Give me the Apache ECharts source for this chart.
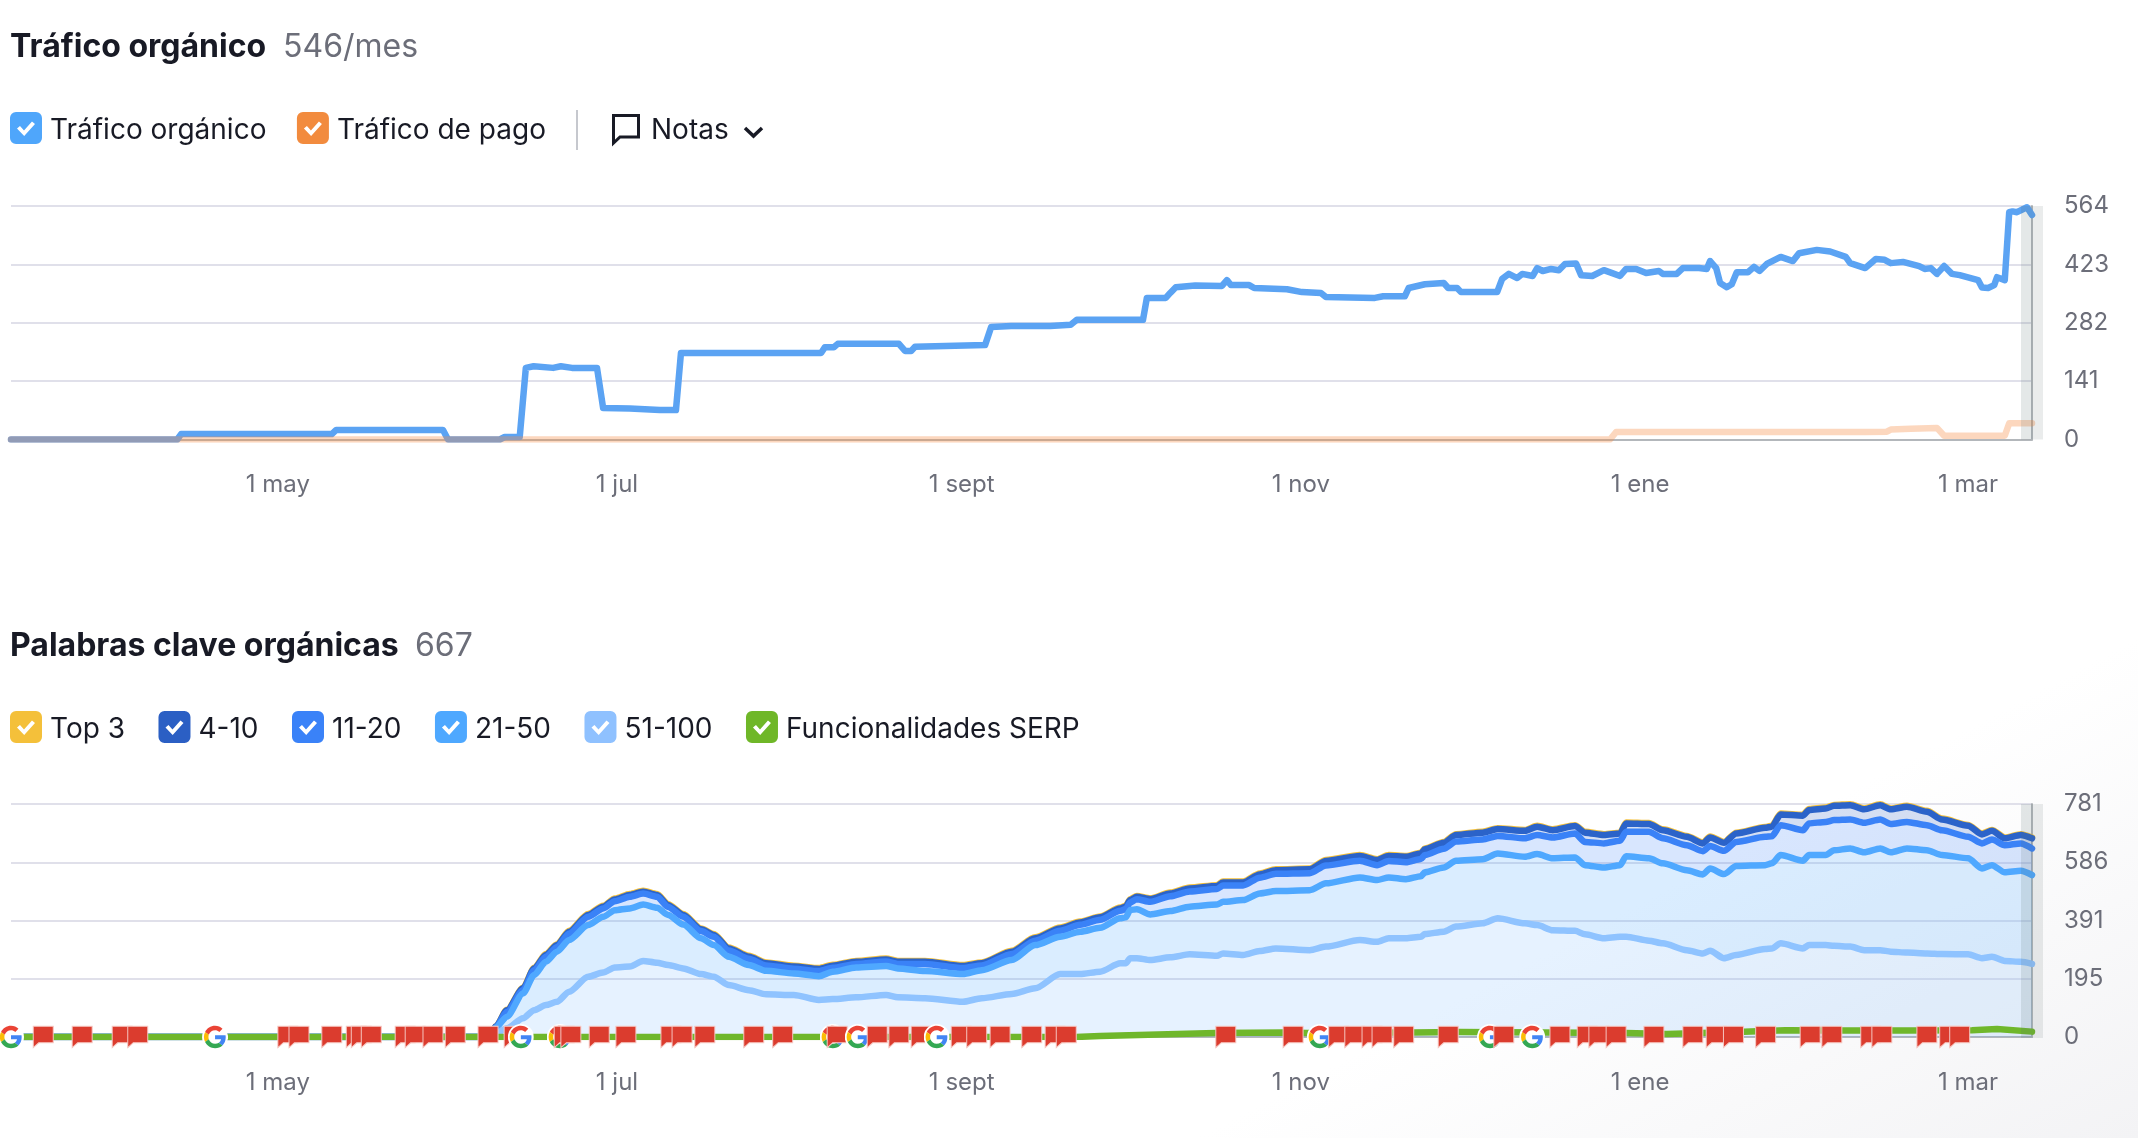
<!DOCTYPE html>
<html>
<head>
<meta charset="utf-8">
<title>Tráfico orgánico</title>
<script src="https://cdn.jsdelivr.net/npm/echarts@6/dist/echarts.min.js"></script>
<style>
    html, body { margin: 0; padding: 0; background: linear-gradient(152deg, #ffffff 78%, #f3f3f5 100%); }
    #main { width: 2138px; height: 1138px; }
</style>
</head>
<body>
<div id="main"></div>
<script>
// x values are days counted from the left edge of the charts (14 mar)
var tickDays = [48, 109, 171, 232, 293, 352];
var tickLabels = ['1 may', '1 jul', '1 sept', '1 nov', '1 ene', '1 mar'];
var lastDay = 363.5;

//*** Trafico organico ***//
var organicDays = [0, 29.9, 30.6, 57.7, 58.5, 77.7, 78.6, 87.9, 88.8, 91.5, 92.6, 94, 97.5, 98.9, 100.9, 105.4, 106.5, 111.3, 116.7, 119.6, 120.5, 145.7, 146.4, 148, 148.7, 159.7, 160.8, 161.9, 162.6, 175.2, 176.3, 179.9, 186.9, 190.6, 191.7, 203.6, 204.3, 207.7, 208.5, 209.5, 213, 217.8, 218.7, 219.4, 222.7, 223.6, 229.5, 232.2, 235.6, 236.5, 245.3, 246.8, 250.7, 251.4, 254.3, 257.7, 258.5, 260.1, 260.8, 267.3, 268.2, 269.4, 270.9, 271.8, 273.7, 274.5, 275.5, 277, 278.4, 279.5, 281.5, 282.4, 284.4, 286.5, 288, 289.4, 290.5, 292.3, 294.1, 296.4, 297.1, 299.6, 300.7, 303.6, 305, 305.6, 306.7, 307.4, 308.6, 309.5, 310.4, 312.4, 313.5, 314.5, 315.8, 318.3, 320.5, 321.6, 324.8, 327.2, 330, 330.8, 333.5, 335.4, 337, 338.1, 340.3, 343.2, 344.2, 345.3, 346.4, 347.7, 349.1, 350.5, 353.8, 354.5, 355.6, 356.7, 357.2, 358.6, 359.4, 360, 360.8, 362.6, 363.5];
var organicValues = [0, 0, 13, 13, 23, 23, 0, 0, 6, 6, 173, 177, 173, 177, 173, 173, 76, 75, 71, 71, 209, 209, 223, 223, 231, 231, 214, 214, 224, 228, 272, 274, 274, 277, 289, 289, 342, 342, 354, 368, 372, 371, 385, 373, 373, 366, 363, 356, 354, 344, 342, 346, 346, 366, 375, 378, 366, 366, 356, 356, 388, 400, 390, 400, 395, 414, 407, 412, 409, 424, 425, 397, 395, 409, 402, 395, 412, 412, 402, 407, 400, 400, 414, 414, 412, 431, 414, 378, 368, 375, 404, 404, 417, 407, 424, 441, 431, 450, 458, 454, 441, 426, 414, 436, 434, 426, 429, 419, 412, 414, 400, 419, 400, 397, 385, 367, 366, 373, 392, 385, 549, 551, 549, 561, 542];

var paidDays = [0, 287.6, 288.7, 333.6, 337.4, 338.1, 341.7, 346.4, 347.7, 358.6, 359.4, 363.5];
var paidValues = [0, 0, 18, 18, 19, 24, 26, 28, 9, 9, 39, 39];

//*** Palabras clave organicas ***//
var keywordDays = [0, 86.2, 87.2, 89.2, 92.1, 94.1, 96.2, 98.2, 100.4, 103.8, 106.5, 108.6, 111.3, 113.7, 116.2, 118.2, 120.9, 124.1, 126.4, 129.1, 132.7, 135.8, 140.8, 145.3, 147.8, 152, 157.4, 159.5, 164.4, 171.2, 174.6, 180, 184.2, 188.7, 192.3, 195.9, 199.5, 200.5, 201.3, 202.5, 204.9, 208.5, 212, 216.9, 218, 221.6, 224.6, 227.5, 233.6, 236.5, 242.6, 245.7, 247.8, 250.9, 253.6, 254.3, 257.7, 259.9, 264.7, 267.4, 272.3, 274.5, 277.3, 281.3, 283.1, 286.5, 289.4, 290.5, 294.6, 297.1, 301.4, 304.3, 305.6, 308.1, 310.3, 315.5, 316.7, 318.3, 322.3, 323.4, 326.4, 327.9, 330.8, 333.3, 336.2, 338.1, 341, 344.6, 347.3, 352, 354.5, 356.3, 358.6, 361.5, 363.5];
var pos51to100 = [0, 0, 12, 29, 63, 90, 107, 118, 152, 202, 216, 233, 236, 255, 249, 241, 230, 211, 202, 174, 157, 143, 141, 124, 127, 133, 141, 133, 130, 118, 130, 144, 163, 211, 211, 219, 247, 247, 264, 264, 258, 267, 277, 272, 280, 275, 288, 297, 291, 303, 325, 319, 331, 331, 336, 345, 353, 370, 381, 398, 381, 375, 358, 356, 344, 331, 336, 336, 323, 314, 291, 280, 289, 264, 275, 295, 297, 314, 297, 308, 308, 306, 303, 291, 291, 286, 283, 280, 278, 277, 264, 269, 255, 252, 245];
var pos21to50 = [0, 0, 20, 39, 83, 118, 145, 168, 173, 173, 187, 192, 195, 189, 184, 168, 147, 120, 106, 95, 84, 79, 72, 80, 92, 100, 97, 97, 91, 93, 94, 114, 145, 125, 142, 147, 151, 154, 162, 164, 153, 155, 160, 172, 173, 184, 193, 192, 201, 212, 210, 207, 204, 198, 203, 207, 215, 221, 215, 217, 223, 238, 241, 246, 232, 237, 240, 270, 276, 268, 268, 265, 276, 282, 298, 281, 285, 296, 294, 302, 302, 320, 329, 328, 341, 333, 349, 346, 332, 322, 301, 307, 297, 305, 298];
var pos11to20 = [0, 0, 1, 16, 11, 16, 17, 16, 22, 28, 28, 30, 39, 37, 37, 27, 26, 24, 28, 21, 21, 18, 16, 17, 13, 12, 15, 15, 24, 20, 16, 20, 15, 20, 23, 27, 25, 28, 25, 34, 42, 50, 51, 52, 55, 49, 53, 58, 57, 60, 56, 50, 55, 57, 58, 58, 63, 64, 66, 59, 62, 64, 70, 80, 78, 81, 82, 82, 89, 84, 84, 78, 75, 78, 81, 95, 91, 100, 102, 106, 111, 101, 97, 99, 97, 95, 89, 84, 83, 72, 84, 86, 91, 92, 89];
var pos4to10 = [0, 0, 2, 6, 6, 6, 6, 6, 6, 6, 6, 6, 6, 6, 6, 6, 6, 6, 6, 7, 7, 7, 7, 7, 7, 7, 7, 7, 7, 7, 7, 8, 8, 8, 8, 8, 8, 8, 8, 8, 9, 9, 10, 10, 10, 10, 11, 12, 13, 15, 16, 17, 17, 18, 18, 19, 20, 22, 23, 23, 25, 28, 24, 25, 31, 28, 24, 28, 26, 27, 28, 26, 29, 27, 28, 30, 32, 36, 49, 45, 45, 48, 48, 45, 48, 49, 51, 45, 36, 37, 30, 29, 23, 28, 34];
var top3 = [0, 0, 0, 1, 2, 2, 3, 3, 3, 3, 3, 3, 3, 3, 3, 3, 3, 3, 3, 3, 3, 3, 3, 3, 3, 3, 3, 3, 3, 3, 3, 3, 3, 3, 3, 3, 3, 3, 3, 3, 3, 3, 3, 3, 3, 3, 3, 3, 3, 3, 3, 3, 3, 3, 3, 3, 3, 3, 3, 3, 3, 3, 3, 3, 3, 3, 3, 3, 3, 3, 3, 3, 3, 3, 3, 3, 3, 3, 3, 3, 3, 3, 3, 3, 3, 3, 3, 3, 3, 3, 3, 3, 3, 3, 3];

var serpDays = [0, 191.5, 195.9, 216.7, 228.8, 233.1, 252.3, 260.6, 290.5, 297.8, 311.7, 319.1, 330, 341, 352.7, 357.2, 363.5];
var serpValues = [0, 0, 3, 13, 15, 13, 15, 17, 13, 10, 18, 23, 22, 22, 23, 27, 18];

// notas: red flags and google updates along the baseline
var flagDays = [4, 11, 18.2, 21, 48, 50, 55.9, 60.3, 61.2, 63, 69.1, 70.9, 74.1, 78.1, 84, 88.7, 97.7, 98.9, 104, 108.8, 116.9, 118.9, 123, 131.8, 137, 146.8, 154, 157.9, 161.9, 169.1, 171.9, 176.1, 181.8, 186, 188, 216.7, 228.8, 237, 239.9, 243, 244.8, 248.7, 256.7, 266.7, 276.8, 281.7, 283.8, 286.9, 293.7, 300.7, 304.9, 308, 313.8, 321.8, 325.7, 332.7, 334.7, 342.8, 346.9, 348.7];
var googleDays = [0, 36.7, 91.7, 98.7, 147.8, 152.3, 166.5, 235.4, 266, 273.6];

var textFont = 'Inter';
var textDark = '#181a25';
var textGrey = '#6c6e79';
// the x axis has to be a time axis so that the keyword series stack along it.
// the picture shows no year, any year with a 28 day february fits the ticks
var START_MS = Date.UTC(2022, 2, 14);
var DAY_MS = 86400000;

// the tiny square at y=38 makes the icon box taller than the checkbox, so the legend text sits lower
var checkIcon = 'path://M6 0H26A6 6 0 0 1 32 6V26A6 6 0 0 1 26 32H6A6 6 0 0 1 0 26V6A6 6 0 0 1 6 0Z' +
    'M7 16.5L14.2 24L25 12L22 9.5L14 18.5L10 14Z' +
    'M0 38h0.01v0.01h-0.01Z';
var flagIcon = 'path://M0 0H20V16.5H5.5L0 21.5Z';
var googleSvg = '<svg xmlns="http://www.w3.org/2000/svg" viewBox="-4 -4 56 56"><circle cx="24" cy="24" r="28" fill="#fff"/>' +
    '<path fill="#EA4335" d="M24 9.5c3.54 0 6.71 1.22 9.21 3.6l6.85-6.85C35.9 2.38 30.47 0 24 0 14.62 0 6.51 5.38 2.56 13.22l7.98 6.19C12.43 13.72 17.74 9.5 24 9.5z"/>' +
    '<path fill="#4285F4" d="M46.98 24.55c0-1.57-.15-3.09-.38-4.55H24v9.02h12.94c-.58 2.96-2.26 5.48-4.78 7.18l7.73 6c4.51-4.18 7.09-10.36 7.09-17.65z"/>' +
    '<path fill="#FBBC05" d="M10.53 28.59c-.48-1.45-.76-2.99-.76-4.59s.27-3.14.76-4.59l-7.98-6.19C.92 16.46 0 20.12 0 24c0 3.88.92 7.54 2.56 10.78l7.97-6.19z"/>' +
    '<path fill="#34A853" d="M24 48c6.48 0 11.93-2.13 15.89-5.81l-7.73-6c-2.15 1.45-4.92 2.3-8.16 2.3-6.26 0-11.57-4.22-13.47-9.91l-7.98 6.19C6.51 42.62 14.62 48 24 48z"/></svg>';
var googleIcon = 'image://data:image/svg+xml;charset=utf-8,' + encodeURIComponent(googleSvg);

function toTime(d) {
    return START_MS + d * DAY_MS;
}

function zip(days, values) {
    return days.map(function (d, i) { return [toTime(d), values[i]]; });
}

// flags and google marks are stacked in time order, later ones on top
function eventData() {
    var items = [];
    flagDays.forEach(function (d) {
        items.push({ sort: d, value: [toTime(d), 0], symbol: flagIcon, symbolSize: [20, 21.5], symbolOffset: [10, 0] });
    });
    googleDays.forEach(function (d) {
        items.push({ sort: d - 1.9, value: [toTime(d), 0], symbol: googleIcon, symbolSize: [26, 26], symbolOffset: [0, 0] });
    });
    items.sort(function (a, b) { return a.sort - b.sort; });
    return items;
}

var tickTimes = tickDays.map(toTime);

function xAxisFor(gridIndex, margin) {
    return {
        type: 'time',
        gridIndex: gridIndex,
        min: toTime(0),
        max: toTime(lastDay),
        splitNumber: 6,
        splitLine: { show: false },
        axisTick: { show: false },
        axisLine: { show: true, onZero: false, lineStyle: { color: '#b3b7bb', width: 2 } },
        axisLabel: {
            hideOverlap: false,
            formatter: function (v) {
                var i = tickTimes.indexOf(v);
                return i < 0 ? '' : tickLabels[i];
            },
            margin: margin,
            color: textGrey,
            fontFamily: textFont,
            fontSize: 24
        }
    };
}

function yAxisFor(gridIndex, maxValue, step) {
    return {
        type: 'value',
        gridIndex: gridIndex,
        position: 'right',
        min: 0,
        max: maxValue,
        interval: step,
        axisTick: { show: false },
        axisLine: { show: true, onZero: false, lineStyle: { color: '#b3b7bb', width: 2 } },
        splitLine: { lineStyle: { color: '#e0e0ea', width: 2 } },
        axisLabel: {
            formatter: function (v) { return Math.round(v); },
            margin: 32,
            color: textGrey,
            fontFamily: textFont,
            fontSize: 24
        }
    };
}

function lineSeries(name, gridIndex, days, values, color, z) {
    return {
        name: name,
        type: 'line',
        xAxisIndex: gridIndex,
        yAxisIndex: gridIndex,
        data: zip(days, values),
        showSymbol: false,
        z: z,
        itemStyle: { color: color },
        lineStyle: { color: color, width: 6.5, cap: 'round', join: 'round' }
    };
}

function stackSeries(name, values, color, fill, z) {
    var s = lineSeries(name, 1, keywordDays, values, color, z);
    s.stack = 'keywords';
    s.smooth = 0.25;
    s.smoothMonotone = 'x';
    s.areaStyle = { color: fill, opacity: 1 };
    return s;
}

function legendFor(top, gap, items) {
    return {
        left: 10,
        top: top,
        padding: 0,
        orient: 'horizontal',
        selectedMode: false,
        icon: checkIcon,
        itemWidth: 32,
        itemHeight: 38,
        itemGap: gap,
        textStyle: { color: textDark, fontFamily: textFont, fontSize: 28, padding: [0, 0, 0, 3] },
        data: items.map(function (it) {
            return { name: it[0], itemStyle: { color: it[1] } };
        })
    };
}

var option = {
    animation: false,
    useUTC: true,
    title: [
        { left: 10, top: 31, padding: 0, text: 'Tráfico orgánico', textStyle: { color: textDark, fontFamily: textFont, fontSize: 32, fontWeight: 700 } },
        { left: 283, top: 31, padding: 0, text: '546/mes', textStyle: { color: textGrey, fontFamily: textFont, fontSize: 32, fontWeight: 400 } },
        { left: 10, top: 630, padding: 0, text: 'Palabras clave orgánicas', textStyle: { color: textDark, fontFamily: textFont, fontSize: 32, fontWeight: 700 } },
        { left: 415, top: 630, padding: 0, text: '667', textStyle: { color: textGrey, fontFamily: textFont, fontSize: 32, fontWeight: 400 } }
    ],
    legend: [
        legendFor(112, 30.5, [['Tráfico orgánico', '#4fa6fb'], ['Tráfico de pago', '#f28b3e']]),
        legendFor(711, 33.5, [['Top 3', '#f4c03a'], ['4-10', '#2b5fc4'], ['11-20', '#3a82f8'], ['21-50', '#4ea8ff'], ['51-100', '#8fc1ff'], ['Funcionalidades SERP', '#6fb728']])
    ],
    grid: [
        { left: 11, right: 106, top: 206, height: 233.5 },
        { left: 11, right: 106, top: 804, height: 233 }
    ],
    xAxis: [xAxisFor(0, 33), xAxisFor(1, 34)],
    yAxis: [yAxisFor(0, 564, 141), yAxisFor(1, 781, 195.25)],
    series: [
        lineSeries('Tráfico orgánico', 0, organicDays, organicValues, '#5ba3f3', 3),
        lineSeries('Tráfico de pago', 0, paidDays, paidValues, 'rgba(245,140,70,0.35)', 4),
        stackSeries('51-100', pos51to100, '#8fc3ff', 'rgba(77,166,255,0.14)', 7),
        stackSeries('21-50', pos21to50, '#4fa8ff', 'rgba(78,168,255,0.21)', 6),
        stackSeries('11-20', pos11to20, '#3a82f7', 'rgba(58,130,248,0.2)', 5),
        stackSeries('4-10', pos4to10, '#2b63c9', 'rgba(43,95,196,0.2)', 4),
        stackSeries('Top 3', top3, '#f4c03a', 'rgba(244,192,58,0.2)', 3),
        lineSeries('Funcionalidades SERP', 1, serpDays, serpValues, '#6fb72b', 8),
        {
            name: 'Notas',
            type: 'scatter',
            xAxisIndex: 1,
            yAxisIndex: 1,
            clip: false,
            z: 10,
            itemStyle: { color: '#db3c2e', borderColor: '#f7c9c4', borderWidth: 1, opacity: 1 },
            data: eventData()
        }
    ],
    graphic: [
        // separator and "Notas" dropdown in the first legend row
        { type: 'line', silent: true, shape: { x1: 577, y1: 110, x2: 577, y2: 150 }, style: { stroke: '#c6c8ce', lineWidth: 2 } },
        { type: 'polygon', silent: true, shape: { points: [[613.5, 115.5], [638.5, 115.5], [638.5, 137], [620, 137], [613.5, 143]] }, style: { fill: 'none', stroke: textDark, lineWidth: 3 } },
        { type: 'text', silent: true, x: 651, y: 130.5, style: { text: 'Notas', fill: textDark, font: '28px Inter', textVerticalAlign: 'middle' } },
        { type: 'polyline', silent: true, shape: { points: [[745, 128], [753.5, 136], [762, 128]] }, style: { fill: 'none', stroke: textDark, lineWidth: 3.5 } },
        // hover band at the last date of both charts
        { type: 'rect', silent: true, z: 20, shape: { x: 2021, y: 206, width: 11, height: 233.5 }, style: { fill: 'rgba(90,110,110,0.16)' } },
        { type: 'rect', silent: true, z: 20, shape: { x: 2032, y: 206, width: 11, height: 233.5 }, style: { fill: 'rgba(90,110,110,0.13)' } },
        { type: 'rect', silent: true, z: 20, shape: { x: 2021, y: 804, width: 11, height: 234 }, style: { fill: 'rgba(90,110,110,0.16)' } },
        { type: 'rect', silent: true, z: 20, shape: { x: 2032, y: 804, width: 11, height: 234 }, style: { fill: 'rgba(90,110,110,0.13)' } }
    ]
};

var chart = echarts.init(document.getElementById('main'));
chart.setOption(option);
</script>
</body>
</html>
